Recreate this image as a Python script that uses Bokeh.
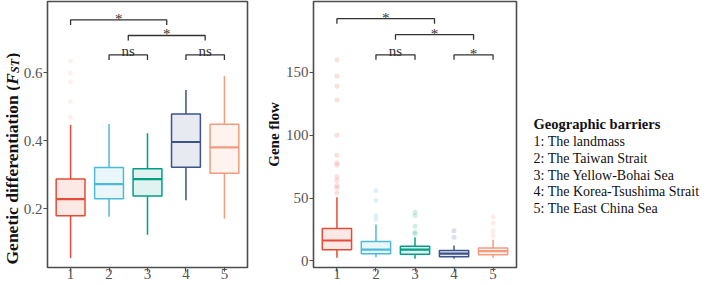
import numpy as np
from bokeh.plotting import figure
from bokeh.models import Range1d, Label, ColumnDataSource, FixedTicker
from bokeh.layouts import row
from bokeh.embed import file_html
from bokeh.resources import INLINE
from bokeh.core.properties import value

# ---------------- data ----------------
groups = [1, 2, 3, 4, 5]
tick_labels = ["1", "2", "3", "4", "5"]
colors = ["#E64B35", "#4DBBD5", "#00A087", "#3C5488", "#F39B7F"]

# Panel 1: genetic differentiation (Fst)
fst_lower = [0.056, 0.177, 0.124, 0.226, 0.171]
fst_q1 = [0.180, 0.230, 0.238, 0.323, 0.305]
fst_median = [0.229, 0.273, 0.288, 0.397, 0.381]
fst_q3 = [0.288, 0.322, 0.318, 0.479, 0.449]
fst_upper = [0.447, 0.450, 0.423, 0.550, 0.591]
fst_out_group = [1, 1, 1, 1, 1]
fst_out_value = [0.635, 0.600, 0.574, 0.515, 0.470]
fst_ticks = [0.2, 0.4, 0.6]

# Panel 2: gene flow
gf_lower = [2.4, 2.9, 1.6, 1.6, 2.4]
gf_q1 = [8.8, 5.6, 5.3, 3.2, 4.8]
gf_median = [16.2, 9.0, 9.0, 5.8, 7.7]
gf_q3 = [25.7, 15.4, 11.6, 8.2, 10.3]
gf_upper = [50.6, 29.0, 18.8, 12.2, 16.7]
gf_out_group = [1] * 13 + [2] * 4 + [3] * 5 + [4] * 2 + [5] * 4
gf_out_value = [160, 147, 139, 128, 100, 84, 78, 76, 67, 64, 60, 58, 54,
                56, 48, 36, 33,
                38.7, 36, 27.5, 22.8, 21.5,
                24, 18.8,
                35, 30, 24, 20]
gf_ticks = [0, 50, 100, 150]

# significance comparisons
fst_cmp_x1 = [1, 2.5, 2, 4]
fst_cmp_x2 = [3.5, 4.5, 3, 5]
fst_cmp_y = [0.756, 0.710, 0.653, 0.653]
fst_cmp_label = ["*", "*", "ns", "ns"]

gf_cmp_x1 = [1, 2.5, 2, 4]
gf_cmp_x2 = [3.5, 4.5, 3, 5]
gf_cmp_y = [192.7, 180.0, 164.0, 164.0]
gf_cmp_label = ["*", "*", "ns", "*"]

fst_title = ["Genetic differentiation (", "F", "ST", ")"]
gf_title = "Gene flow"
legend_title = "Geographic barriers"
legend_items = ["1:  The landmass", "2:  The Taiwan Strait", "3:  The Yellow-Bohai Sea",
                "4:  The Korea-Tsushima Strait", "5:  The East China Sea"]

SERIF = "Liberation Serif"
TICK_COLOR = "#555555"
FRAME_COLOR = "#4d4d4d"
TEXT_COLOR = "#111111"
H = 285
FRAME_TOP, FRAME_BOTTOM = 1, 267
XR = (0.4, 5.6)


def make_panel(width, left, frame_w, y_range, yticks,
               lower, q1, med, q3, upper, out_g, out_v, out_alpha,
               cx1, cx2, cy, clab, tick_drop):
    p = figure(width=width, height=H, output_backend="svg", toolbar_location=None,
               x_range=Range1d(*XR), y_range=Range1d(*y_range),
               min_border_left=left, min_border_right=width - left - frame_w,
               min_border_top=FRAME_TOP, min_border_bottom=H - FRAME_BOTTOM)
    p.grid.visible = False
    p.outline_line_color = FRAME_COLOR
    p.outline_line_width = 1.6
    p.background_fill_color = "white"
    p.border_fill_color = "white"

    p.xaxis.ticker = FixedTicker(ticks=groups)
    p.xaxis.major_label_overrides = {g: t for g, t in zip(groups, tick_labels)}
    p.xaxis.major_label_standoff = -3
    p.yaxis.ticker = FixedTicker(ticks=yticks)
    p.yaxis.major_label_standoff = 1
    for ax in (p.xaxis, p.yaxis):
        ax.axis_line_color = None
        ax.major_tick_out = 4
        ax.major_tick_in = 0
        ax.major_tick_line_color = FRAME_COLOR
        ax.major_tick_line_width = 1.2
        ax.minor_tick_line_color = None
        ax.major_label_text_font = SERIF
        ax.major_label_text_font_size = "15px"
        ax.major_label_text_color = TICK_COLOR

    src = ColumnDataSource(dict(x=groups, lower=lower, q1=q1, med=med, q3=q3,
                                upper=upper, color=colors,
                                xl=[g - 0.375 for g in groups],
                                xr=[g + 0.375 for g in groups]))
    ocol = [colors[g - 1] for g in out_g]
    p.scatter(out_g, out_v, size=5, color=ocol, alpha=out_alpha, line_color=None)
    p.segment("x", "q3", "x", "upper", source=src, line_color="color", line_width=1.5)
    p.segment("x", "q1", "x", "lower", source=src, line_color="color", line_width=1.5)
    p.vbar(x="x", width=0.75, bottom="q1", top="q3", source=src,
           fill_color="color", fill_alpha=0.12, line_color="color", line_width=1.5)
    p.segment("xl", "med", "xr", "med", source=src, line_color="color", line_width=2.2)

    xs = [[a, a, b, b] for a, b in zip(cx1, cx2)]
    ys = [[y - tick_drop, y, y, y - tick_drop] for y in cy]
    p.multi_line(xs, ys, line_color="#333333", line_width=1.3)
    tx = [(a + b) / 2 for a, b in zip(cx1, cx2)]
    ty = [y + tick_drop * (0.2 if l == "*" else 0.8) for y, l in zip(cy, clab)]
    p.text(tx, ty, text=clab, text_align="center", text_baseline="alphabetic",
           text_font=value(SERIF), text_font_size="15px", text_color="#333333")
    return p


def blank(width):
    # text strip whose frame matches the panels' frame; y in page pixels
    f = figure(width=width, height=H, output_backend="svg", toolbar_location=None,
               x_range=Range1d(0, width), y_range=Range1d(FRAME_BOTTOM, FRAME_TOP),
               min_border_left=0, min_border_right=0,
               min_border_top=FRAME_TOP, min_border_bottom=H - FRAME_BOTTOM,
               x_axis_location=None, y_axis_location=None)
    f.grid.visible = False
    f.outline_line_color = None
    f.background_fill_color = "white"
    f.border_fill_color = "white"
    return f


# ---- title strip for panel 1 (rotated, with italic F and subscript ST) ----
T1 = 20
t1 = blank(T1)
fs = 17.5
ypx = 264.0
styles = [("bold", fs, 0.0, 10.277), ("bold italic", fs, 0.0, 0.667),
          ("bold italic", 12, 3.0, 1.2), ("bold", fs, 0.0, 0.333)]
for txt, (style, size, dx, wem) in zip(fst_title, styles):
    t1.add_layout(Label(x=11.0 + dx, y=ypx, text=txt, angle=np.pi / 2, text_align="left",
                        text_baseline="middle", text_font=SERIF, text_font_style=style,
                        text_font_size=f"{size}px", text_color=TEXT_COLOR))
    ypx -= wem * size

# ---- panels ----
P1_LEFT = 42 - T1
p1 = make_panel(262 - T1, P1_LEFT, 205, (0.028, 0.810), fst_ticks,
                fst_lower, fst_q1, fst_median, fst_q3, fst_upper,
                fst_out_group, fst_out_value, 0.08,
                fst_cmp_x1, fst_cmp_x2, fst_cmp_y, fst_cmp_label, 0.015)

P2_W = 51 + 203 + 5
p2 = make_panel(P2_W, 51, 203, (-5.3, 206.4), gf_ticks,
                gf_lower, gf_q1, gf_median, gf_q3, gf_upper,
                gf_out_group, gf_out_value, 0.18,
                gf_cmp_x1, gf_cmp_x2, gf_cmp_y, gf_cmp_label, 4.0)
p2.yaxis.axis_label = gf_title
p2.yaxis.axis_label_standoff = 1
p2.yaxis.axis_label_text_font = SERIF
p2.yaxis.axis_label_text_font_style = "bold"
p2.yaxis.axis_label_text_font_size = "15px"
p2.yaxis.axis_label_text_color = TEXT_COLOR

# ---- legend strip ----
LEG_W = 709 - 262 - P2_W
leg = blank(LEG_W)
lx = 533 - 262 - P2_W
leg.add_layout(Label(x=lx, y=123.3, text=legend_title, text_align="left", text_baseline="middle",
                     text_font=SERIF, text_font_style="bold", text_font_size="14.5px",
                     text_color=TEXT_COLOR))
for i, item in enumerate(legend_items):
    leg.add_layout(Label(x=lx, y=140.7 + i * 16.9, text=item, text_align="left",
                         text_baseline="middle", text_font=SERIF, text_font_size="14px",
                         text_color=TEXT_COLOR))

layout = row(t1, p1, p2, leg)
open("out.html", "w").write(file_html(layout, INLINE))
